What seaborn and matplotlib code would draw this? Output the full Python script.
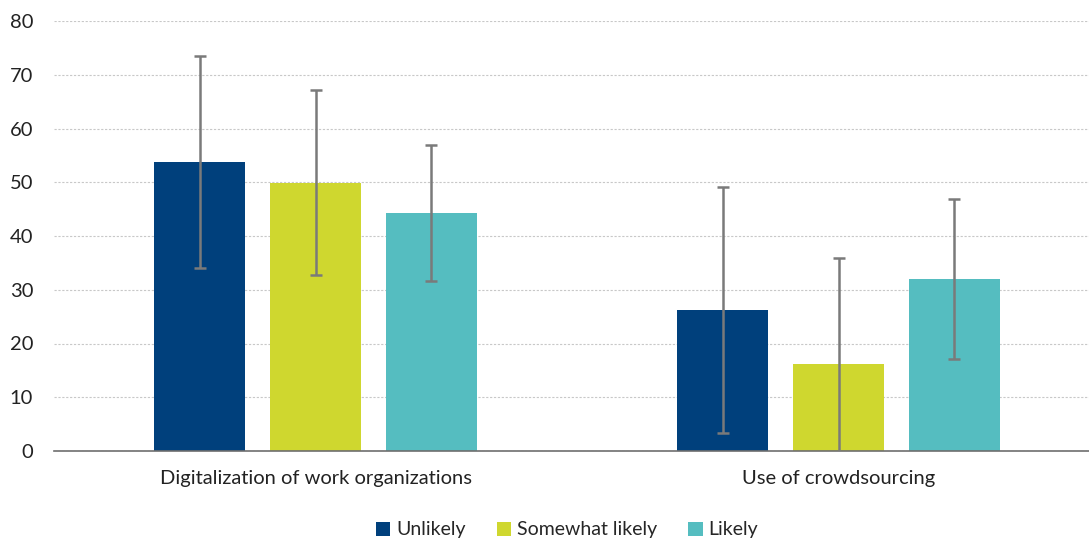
import matplotlib
matplotlib.use("Agg")
import matplotlib.pyplot as plt
import seaborn as sns
import pandas as pd
import numpy as np

categories = ["Digitalization of work organizations", "Use of crowdsourcing"]
series = ["Unlikely", "Somewhat likely", "Likely"]
unlikely = [53.8, 26.2]
somewhat_likely = [49.9, 16.2]
likely = [44.3, 32.0]
err_unlikely = [19.7, 22.9]
err_somewhat_likely = [17.2, 19.7]
err_likely = [12.6, 14.8]
colors = ["#00407C", "#CFD72F", "#55BDC0"]
yticks = [0, 10, 20, 30, 40, 50, 60, 70, 80]

values = {"Unlikely": unlikely, "Somewhat likely": somewhat_likely, "Likely": likely}
errors = {"Unlikely": err_unlikely, "Somewhat likely": err_somewhat_likely, "Likely": err_likely}

rows = []
for s in series:
    for c, v, e in zip(categories, values[s], errors[s]):
        rows.append({"category": c, "series": s, "value": v, "err": e})
df = pd.DataFrame(rows)

sns.set_theme(style="white")
plt.rcParams["font.family"] = ["Lato", "DejaVu Sans"]

fig = plt.figure(figsize=(10.89, 5.43), dpi=100)
ax = fig.add_axes([54 / 1089, 1 - 451 / 543, 1035 / 1089, 430 / 543])

sns.barplot(data=df, x="category", y="value", hue="series", order=categories,
            hue_order=series, palette=colors, width=0.665, gap=0.216,
            errorbar=None, ax=ax, legend=True, saturation=1, edgecolor="none")

# error bars at the bar centers drawn by seaborn
for container, s in zip(ax.containers, series):
    xs = [p.get_x() + p.get_width() / 2 for p in container.patches]
    ys = [p.get_height() for p in container.patches]
    ax.errorbar(xs, ys, yerr=errors[s], fmt="none", ecolor="#7A7A7A",
                elinewidth=1.8, capsize=4.5, capthick=1.8, zorder=5)

ax.set_xlim(-0.5, -0.5 + 1035 / 523)
ax.set_ylim(0, 80)
ax.set_yticks(yticks)
ax.set_yticklabels([str(t) for t in yticks], fontsize=14.5, color="#222222")
ax.tick_params(axis="y", length=0, pad=15)
ax.tick_params(axis="x", length=0, pad=14, labelsize=14.5, labelcolor="#222222")
ax.set_xlabel("")
ax.set_ylabel("")
ax.yaxis.grid(True, linestyle=(0, (2, 1.5)), color="#C8C8C8", linewidth=0.8)
ax.set_axisbelow(True)
for side in ["top", "right", "left"]:
    ax.spines[side].set_visible(False)
ax.spines["bottom"].set_color("#6E6E6E")
ax.spines["bottom"].set_linewidth(1.2)

handles, labels = ax.get_legend_handles_labels()
ax.legend(handles, labels, loc="center", bbox_to_anchor=(567 / 1089, 1 - 530 / 543),
          bbox_transform=fig.transFigure, ncol=3, frameon=False, fontsize=14,
          handlelength=0.75, handleheight=0.75, handletextpad=0.3, columnspacing=1.6)

fig.savefig("out.png", dpi=100)
